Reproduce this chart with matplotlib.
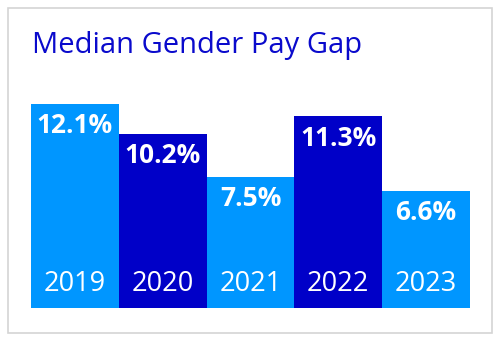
import matplotlib.pyplot as plt
from matplotlib.patches import Rectangle

years = ['2019', '2020', '2021', '2022', '2023']
gap = [12.1, 10.2, 7.5, 11.3, 6.6]
colors = ['#0096FF', '#0000C8', '#0096FF', '#0000C8', '#0096FF']

plt.rcParams['font.family'] = ['Open Sans', 'DejaVu Sans']

fig = plt.figure(figsize=(5, 3.41), dpi=100)

# light grey frame around the whole card
fig.patches.append(Rectangle((8 / 500, 8 / 341), 484 / 500, 325 / 341,
                             transform=fig.transFigure, fill=False,
                             edgecolor='#D4D4D4', linewidth=1.2))

fig.text(32 / 500, 1 - 53 / 341, 'Median Gender Pay Gap', color='#0A0ACC',
         fontsize=21, ha='left', va='baseline')

base = -0.78
ax = fig.add_axes([31 / 500, 33 / 341, 439 / 500, 228 / 341])
x = range(len(years))
ax.bar(x, [v - base for v in gap], bottom=base, width=1.0, color=colors,
       linewidth=0)
ax.set_xlim(-0.5, len(years) - 0.5)
ax.set_ylim(base, 13.59)
ax.axis('off')

for i, (yr, v) in enumerate(zip(years, gap)):
    ax.annotate(f'{v}%', (i, v), xytext=(0, -6), textcoords='offset points',
                ha='center', va='top', color='white', fontsize=19,
                fontweight='bold')
    ax.annotate(yr, (i, base), xytext=(0, 12), textcoords='offset points',
                ha='center', va='baseline', color='white', fontsize=19.5)

fig.savefig('out.png', dpi=100)
